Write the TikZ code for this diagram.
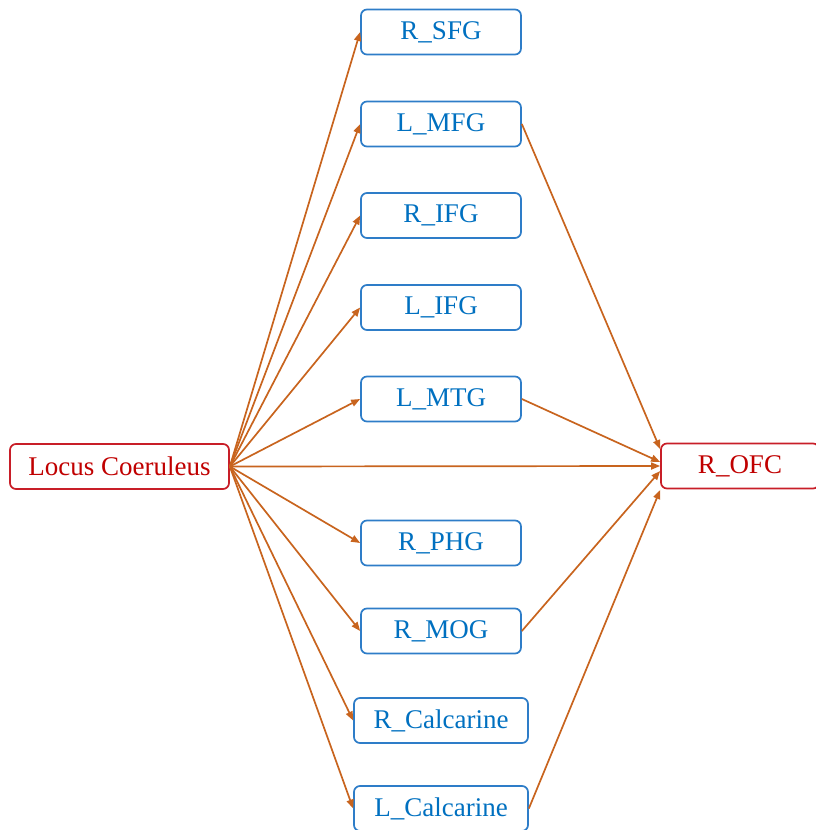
\documentclass[tikz,border=0pt]{standalone}
\usepackage{fontspec}
\setmainfont{Liberation Serif}
\usetikzlibrary{arrows.meta}
\definecolor{boxblue}{RGB}{46,125,200}
\definecolor{txtblue}{RGB}{0,112,192}
\definecolor{boxred}{RGB}{200,30,40}
\definecolor{txtred}{RGB}{192,0,0}
\definecolor{linkorange}{RGB}{200,100,30}
\tikzset{
  region/.style={draw=boxblue, text=txtblue, line width=1.7pt, rounded corners=6pt,
    minimum width=160pt, minimum height=45pt, inner sep=0pt,
    font=\fontsize{27}{27}\selectfont},
  widebox/.style={region, minimum width=174pt},
  hub/.style={region, draw=boxred, text=txtred},
  link/.style={draw=linkorange, line width=1.7pt, -{Triangle[length=9pt,width=7pt]}}
}
\begin{document}
\begin{tikzpicture}[x=1pt,y=-1pt]
\useasboundingbox (0,0) rectangle (815,830);
% source and target
\node[hub, minimum width=219pt] (lc) at (119.5,466.5) {Locus Coeruleus};
\node[hub, minimum width=158pt] (ofc) at (740,466) {R\_OFC};
% intermediate regions
\node[region] (sfg) at (441,32) {R\_SFG};
\node[region] (mfg) at (441,124) {L\_MFG};
\node[region] (rifg) at (441,215.5) {R\_IFG};
\node[region] (lifg) at (441,307.5) {L\_IFG};
\node[region] (mtg) at (441,399) {L\_MTG};
\node[region] (phg) at (441,543) {R\_PHG};
\node[region] (mog) at (441,631) {R\_MOG};
\node[widebox] (rcal) at (441,720.5) {R\_Calcarine};
\node[widebox] (lcal) at (441,808.5) {L\_Calcarine};
% connections from Locus Coeruleus
\foreach \n in {sfg,mfg,rifg,lifg,mtg,phg,mog,rcal,lcal}
  \draw[link] (lc.east) -- (\n.west);
\draw[link] (lc.east) -- (ofc.west);
% connections into R_OFC (canvas shifts: positive is upward)
\draw[link] (mfg.east) -- ([yshift=17pt]ofc.west);
\draw[link] (mtg.east) -- ([yshift=4pt]ofc.west);
\draw[link] (mog.east) -- ([yshift=-5pt]ofc.west);
\draw[link] (lcal.east) -- ([yshift=-24pt]ofc.west);
\end{tikzpicture}
\end{document}
